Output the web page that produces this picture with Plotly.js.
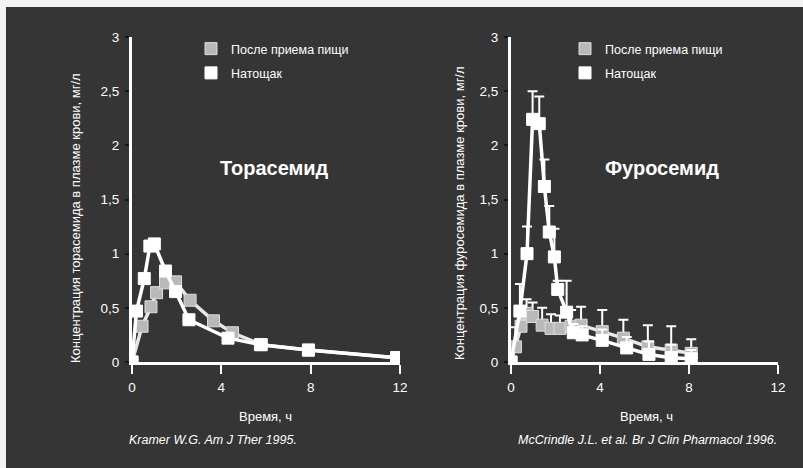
<!DOCTYPE html>
<html>
<head>
<meta charset="utf-8">
<script src="https://cdn.plot.ly/plotly-3.0.1.min.js"></script>
<style>html,body{margin:0;padding:0;background:#353535;}#chart{width:803px;height:468px;}</style>
</head>
<body>
<div id="chart"></div>
<script>
// ---- Data ----
// Left panel: Torasemide
const torTimeFed   = [0, 0.45, 0.85, 1.1, 1.5, 1.95, 2.6, 3.65, 4.5, 5.8, 7.9, 11.85];
const torConcFed   = [0, 0.33, 0.51, 0.64, 0.73, 0.74, 0.57, 0.38, 0.27, 0.16, 0.11, 0.04];
const torTimeFast  = [0, 0.2, 0.55, 0.8, 1.0, 1.5, 1.95, 2.55, 4.3, 5.75, 7.9, 11.85];
const torConcFast  = [0, 0.47, 0.77, 1.07, 1.09, 0.84, 0.65, 0.39, 0.22, 0.16, 0.11, 0.04];

// Right panel: Furosemide
const furTimeFed   = [0, 0.2, 0.45, 0.7, 0.97, 1.4, 1.8, 2.2, 2.7, 3.15, 4.1, 5.05, 6.15, 7.2, 8.1];
const furConcFed   = [0, 0.14, 0.33, 0.45, 0.42, 0.34, 0.31, 0.31, 0.33, 0.34, 0.28, 0.22, 0.14, 0.11, 0.08];
const furErrFed    = [0, 0.18, 0.15, 0.13, 0.13, 0.16, 0.13, 0.12, 0.15, 0.17, 0.2, 0.17, 0.2, 0.22, 0.13];
const furTimeFast  = [0, 0.4, 0.72, 0.97, 1.27, 1.5, 1.72, 1.95, 2.1, 2.5, 2.8, 3.2, 4.1, 5.2, 6.2, 7.2, 8.1];
const furConcFast  = [0, 0.47, 1.0, 2.24, 2.2, 1.62, 1.2, 0.97, 0.67, 0.46, 0.27, 0.25, 0.2, 0.13, 0.07, 0.04, 0.03];
const furErrFast   = [0, 0.25, 0.25, 0.26, 0.25, 0.25, 0.24, 0.26, 0.08, 0.29, 0.08, 0.08, 0.1, 0.1, 0.12, 0.12, 0.08];

// Labels
const seriesNames  = ['После приема пищи', 'Натощак'];
const yTickVals    = [0, 0.5, 1, 1.5, 2, 2.5, 3];
const yTickText    = ['0', '0,5', '1', '1,5', '2', '2,5', '3'];
const xTickVals    = [0, 4, 8, 12];
const drugNames    = ['Торасемид', 'Фуросемид'];
const yTitles      = ['Концентрация торасемида в плазме крови, мг/л', 'Концентрация фуросемида в плазме крови, мг/л'];
const xTitle       = 'Время, ч';
const citations    = ['Kramer W.G. Am J Ther 1995.', 'McCrindle J.L. et al. Br J Clin Pharmacol 1996.'];

// ---- Styles ----
const W = 803, H = 468;
const SANS = '"Liberation Sans", Arial, sans-serif';
const fedColor = '#b9b9b9', fastColor = '#ffffff';
const px = v => v / W, py = v => 1 - v / H;

function lineTrace(x, y, err, fed, xa, ya) {
  const t = {
    x: x, y: y, xaxis: xa, yaxis: ya, mode: 'lines+markers', showlegend: false,
    line: {color: fed ? '#e8e8e8' : '#ffffff', width: 3.5},
    marker: {symbol: 'square', size: 12, color: fed ? fedColor : fastColor,
             line: {color: fed ? '#dcdcdc' : '#ffffff', width: 1}},
    hoverinfo: 'skip'
  };
  if (err) {
    t.error_y = {type: 'data', symmetric: false, array: err, arrayminus: err.map(() => 0),
                 color: '#ffffff', thickness: 2, width: 5};
  }
  return t;
}
function legendTrace(name, fed, legend) {
  return {x: [null], y: [null], mode: 'markers', name: name, legend: legend,
          legendgroup: legend + name,
          marker: {symbol: 'square', size: 12, color: fed ? fedColor : fastColor,
                   line: {color: fed ? '#dcdcdc' : '#ffffff', width: 1}}};
}

const data = [
  lineTrace(torTimeFed, torConcFed, null, true, 'x', 'y'),
  lineTrace(torTimeFast, torConcFast, null, false, 'x', 'y'),
  lineTrace(furTimeFed, furConcFed, furErrFed, true, 'x2', 'y2'),
  lineTrace(furTimeFast, furConcFast, furErrFast, false, 'x2', 'y2'),
  legendTrace(seriesNames[0], true, 'legend'),
  legendTrace(seriesNames[1], false, 'legend'),
  legendTrace(seriesNames[0], true, 'legend2'),
  legendTrace(seriesNames[1], false, 'legend2')
];

const yDomain = [1 - 362 / H, 1 - 37 / H];
function xAxis(domain, anchor) {
  return {domain: domain, anchor: anchor, range: [0, 12], tickvals: xTickVals,
          showline: true, linecolor: '#ffffff', linewidth: 3, mirror: false,
          ticks: 'outside', ticklen: 9, tickwidth: 2, tickcolor: '#ffffff',
          ticklabelstandoff: 2,
          showgrid: false, zeroline: false,
          tickfont: {family: SANS, size: 13.5, color: '#ffffff'}};
}
function yAxis(anchor) {
  return {domain: yDomain, anchor: anchor, range: [0, 3], tickvals: yTickVals, ticktext: yTickText,
          showline: true, linecolor: '#ffffff', linewidth: 3,
          ticks: 'outside', ticklen: 4, tickwidth: 2, tickcolor: '#151515',
          ticklabelstandoff: 3,
          showgrid: false, zeroline: false,
          tickfont: {family: SANS, size: 13.5, color: '#ffffff'}};
}
const legendBase = {orientation: 'v', bgcolor: 'rgba(0,0,0,0)', borderwidth: 0,
  font: {family: SANS, size: 12.5, color: '#ffffff'}, traceorder: 'grouped', tracegroupgap: 5,
  xanchor: 'left', yanchor: 'top', itemclick: false};

function ann(text, x, y, font, opts) {
  return Object.assign({text: text, x: px(x), y: py(y), xref: 'paper', yref: 'paper',
    xanchor: 'center', yanchor: 'middle', showarrow: false, font: font}, opts || {});
}
const white = (size) => ({family: SANS, size: size, color: '#ffffff'});
const annotations = [
  ann('<b>' + drugNames[0] + '</b>', 274, 168, white(20)),
  ann('<b>' + drugNames[1] + '</b>', 662, 168, white(20)),
  ann(xTitle, 265, 416, white(13)),
  ann(xTitle, 646, 416, white(13)),
  ann(yTitles[0], 75, 218, white(13), {textangle: -90}),
  ann(yTitles[1], 460, 213, white(13), {textangle: -90}),
  ann('<i>' + citations[0] + '</i>', 127, 440, white(12.5), {xanchor: 'left'}),
  ann('<i>' + citations[1] + '</i>', 516, 440, white(12.5), {xanchor: 'left'})
];

const layout = {
  width: W, height: H, margin: {l: 0, r: 0, t: 0, b: 0},
  paper_bgcolor: '#353535', plot_bgcolor: 'rgba(0,0,0,0)',
  showlegend: true,
  xaxis: xAxis([132 / W, 400 / W], 'y'),
  yaxis: yAxis('x'),
  xaxis2: xAxis([511 / W, 778 / W], 'y2'),
  yaxis2: yAxis('x2'),
  legend: Object.assign({}, legendBase, {x: px(191), y: py(34)}),
  legend2: Object.assign({}, legendBase, {x: px(565), y: py(34)}),
  annotations: annotations,
  shapes: [
    {type: 'rect', xref: 'paper', yref: 'paper', x0: 0, x1: 6 / W, y0: 0, y1: 1, fillcolor: '#f2f2f2', line: {width: 0}},
    {type: 'rect', xref: 'paper', yref: 'paper', x0: 0, x1: 1, y0: 1 - 7 / H, y1: 1, fillcolor: '#f2f2f2', line: {width: 0}}
  ]
};

Plotly.newPlot('chart', data, layout, {staticPlot: true, displayModeBar: false});
</script>
</body>
</html>
